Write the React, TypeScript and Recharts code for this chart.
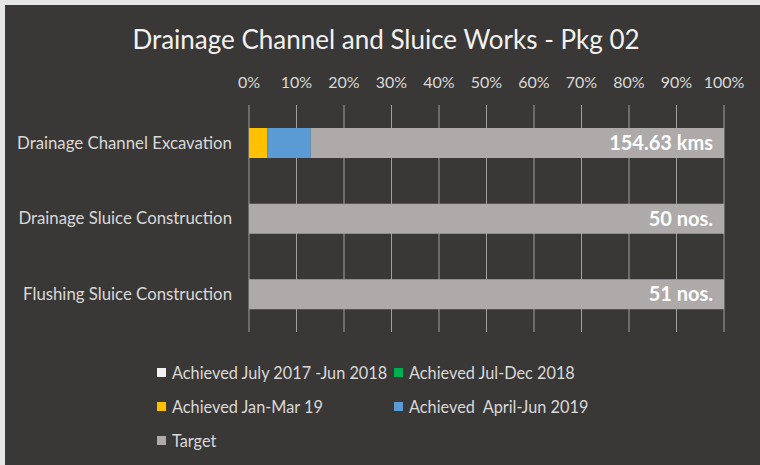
import React from 'react';
import { BarChart, Bar, XAxis, YAxis, CartesianGrid, Legend, LabelList } from 'recharts';

const categories = ['Drainage Channel Excavation', 'Drainage Sluice Construction', 'Flushing Sluice Construction'];
const seriesNames = [
  'Achieved July 2017 -Jun 2018',
  'Achieved Jul-Dec 2018',
  'Achieved Jan-Mar 19',
  'Achieved  April-Jun 2019',
  'Target',
];
const seriesColors = ['#f2f2f2', '#00b050', '#ffc000', '#5b9bd5', '#aeaaaa'];
const achievedJul17Jun18 = [0, 0, 0];
const achievedJulDec18 = [0, 0, 0];
const achievedJanMar19 = [3.9, 0, 0];
const achievedAprJun19 = [9.1, 0, 0];
const target = [87, 100, 100];
const targetLabels = ['154.63 kms', '50 nos.', '51 nos.'];
const percentTicks = [0, 10, 20, 30, 40, 50, 60, 70, 80, 90, 100];

const data = categories.map((name, i) => ({
  name,
  a1: achievedJul17Jun18[i],
  a2: achievedJulDec18[i],
  a3: achievedJanMar19[i],
  a4: achievedAprJun19[i],
  target: target[i],
  label: targetLabels[i],
}));

const FONT = 'Lato, "Open Sans", sans-serif';
const TEXT = '#d9d9d9';

const renderLegend = (props: any) => {
  const items = [...(props.payload || [])].sort(
    (a: any, b: any) => seriesNames.indexOf(a.value) - seriesNames.indexOf(b.value)
  );
  return (
    <div
      style={{
        display: 'grid',
        gridTemplateColumns: '237px 240px',
        gridAutoRows: '34px',
        fontFamily: FONT,
        fontSize: 16.3,
        color: TEXT,
      }}
    >
      {items.map((it: any) => (
        <div key={it.value} style={{ display: 'flex', alignItems: 'center', whiteSpace: 'pre' }}>
          <span style={{ width: 9, height: 9, background: it.color, marginRight: 6, display: 'inline-block' }} />
          {it.value}
        </div>
      ))}
    </div>
  );
};

export default function App() {
  return (
    <div style={{ position: 'absolute', left: 0, top: 0, width: 760, height: 465, background: '#e6e6e6' }}>
      <div style={{ position: 'absolute', left: 5, top: 5, width: 755, height: 460, background: '#3a3836' }} />
      <div
        style={{
          position: 'absolute',
          left: 0,
          top: 23,
          width: 772,
          textAlign: 'center',
          fontFamily: FONT,
          fontSize: 26,
          color: '#f2f2f2',
        }}
      >
        Drainage Channel and Sluice Works - Pkg 02
      </div>
      <div style={{ position: 'absolute', left: 0, top: 0 }}>
        <BarChart
          width={760}
          height={465}
          data={data}
          layout="vertical"
          margin={{ top: 75, right: 36, bottom: 133, left: 0 }}
          barSize={30}
        >
          <CartesianGrid horizontal={false} stroke="#a0a0a0" />
          <XAxis
            type="number"
            orientation="top"
            domain={[0, 100]}
            ticks={percentTicks}
            tickFormatter={(v: number) => `${v}%`}
            axisLine={false}
            tickLine={false}
            tickSize={0}
            tickMargin={17}
            height={30}
            tick={{ fill: TEXT, fontSize: 16, fontFamily: FONT }}
          />
          <YAxis
            type="category"
            dataKey="name"
            width={249}
            axisLine={false}
            tickLine={false}
            tickSize={0}
            tickMargin={17}
            tick={{ fill: TEXT, fontSize: 16.8, fontFamily: FONT }}
          />
          <Legend
            content={renderLegend}
            layout="horizontal"
            verticalAlign="middle"
            align="center"
            wrapperStyle={{ position: 'absolute', left: 157, top: 355, width: 480 }}
          />
          <Bar dataKey="a1" stackId="s" name={seriesNames[0]} fill={seriesColors[0]} isAnimationActive={false} />
          <Bar dataKey="a2" stackId="s" name={seriesNames[1]} fill={seriesColors[1]} isAnimationActive={false} />
          <Bar dataKey="a3" stackId="s" name={seriesNames[2]} fill={seriesColors[2]} isAnimationActive={false} />
          <Bar dataKey="a4" stackId="s" name={seriesNames[3]} fill={seriesColors[3]} isAnimationActive={false} />
          <Bar dataKey="target" stackId="s" name={seriesNames[4]} fill={seriesColors[4]} isAnimationActive={false}>
            <LabelList
              dataKey="label"
              position="insideRight"
              offset={11}
              fill="#ffffff"
              fontSize={20}
              fontWeight="bold"
              fontFamily={FONT}
            />
          </Bar>
        </BarChart>
      </div>
    </div>
  );
}
